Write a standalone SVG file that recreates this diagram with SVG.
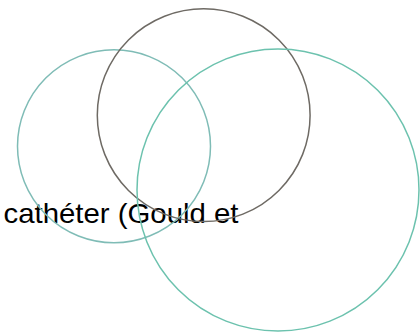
<svg xmlns="http://www.w3.org/2000/svg" width="420" height="332" viewBox="0 0 420 332">
<style>
.c{fill:none;stroke-width:1.5}
.t{font-family:"Liberation Sans",Arial,sans-serif;font-size:28px;fill:#000}
</style>
<rect width="420" height="332" fill="#fff"/>
<text class="t" x="3.5" y="223" textLength="235" lengthAdjust="spacingAndGlyphs">cathéter (Gould et</text>
<g id="circle-left"><circle class="c" cx="114" cy="146.3" r="96.5" stroke="#7fbcb6"/></g>
<g id="circle-top"><circle class="c" cx="203.7" cy="115.2" r="106.4" stroke="#6e6a64"/></g>
<g id="circle-right"><circle class="c" cx="278" cy="190" r="141" stroke="#6cc2ae"/></g>
</svg>
